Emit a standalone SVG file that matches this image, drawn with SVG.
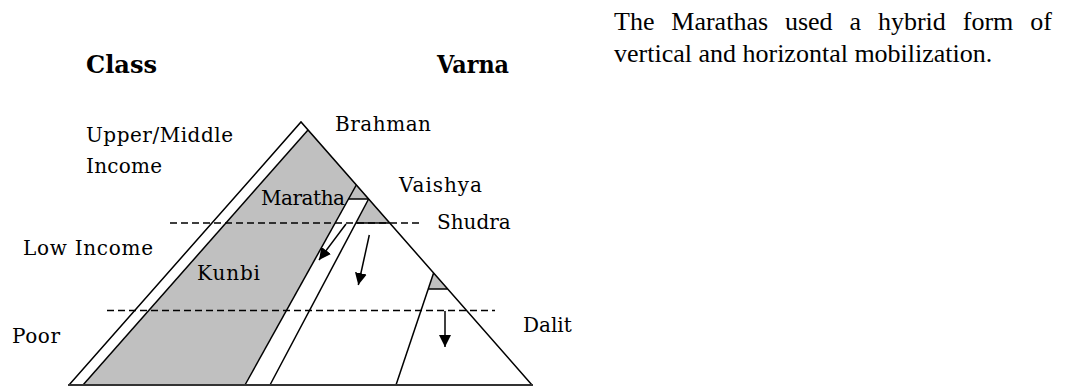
<svg xmlns="http://www.w3.org/2000/svg" width="1065" height="387" viewBox="0 0 1065 387">
<defs>
<style>
.ln{stroke:#000;stroke-width:1.5;fill:none;stroke-linejoin:miter}
.gr{fill:#c0c0c0;stroke:none}
.ds{stroke:#000;stroke-width:1.3;stroke-dasharray:7 4;fill:none}
.lb{font-family:"DejaVu Serif",serif;font-size:20px;fill:#000}
.hd{font-family:"DejaVu Serif",serif;font-size:24px;font-weight:bold;fill:#000}
.pg{font-family:"Liberation Serif","Times New Roman",serif;font-size:26px;fill:#000}
.ar{stroke:#000;stroke-width:1.5;fill:none}
</style>
<marker id="ah" viewBox="0 0 10 10" refX="10" refY="5" markerWidth="12" markerHeight="12" markerUnits="userSpaceOnUse" orient="auto">
<path d="M0,0 L10,5 L0,10 z" fill="#000"/>
</marker>
</defs>
<rect width="1065" height="387" fill="#fff"/>
<g id="pyramid">
<polygon class="gr" points="83,385 308,130 356.3,185 245,385"/>
<polygon class="gr" points="356.3,185 368.6,199 348.2,199"/>
<polygon class="gr" points="368.6,199 389.7,223 355.9,223"/>
<polygon class="gr" points="433.6,273 447.6,289 428.2,289"/>
<polyline class="ln" points="69,385 301,122 532,385"/>
<line class="ln" x1="83" y1="385" x2="308" y2="130"/>
<line class="ln" x1="356.3" y1="185" x2="245" y2="385"/>
<line class="ln" x1="368.6" y1="199" x2="270" y2="385"/>
<line class="ln" x1="433.6" y1="273" x2="396" y2="385"/>
<line class="ln" x1="348.2" y1="199" x2="368.6" y2="199"/>
<line class="ln" x1="355.9" y1="223" x2="389.7" y2="223"/>
<line class="ln" x1="428.2" y1="289" x2="447.6" y2="289"/>
<line x1="68" y1="385" x2="533" y2="385" stroke="#333" stroke-width="2.2"/>
</g>
<g id="dividers">
<line class="ds" x1="170" y1="223" x2="422" y2="223"/>
<line class="ds" x1="107" y1="310.5" x2="495" y2="310.5"/>
</g>
<g id="connectors">
<line class="ar" x1="346" y1="224" x2="319" y2="260" marker-end="url(#ah)"/>
<line class="ar" x1="369.3" y1="235" x2="358.3" y2="285" marker-end="url(#ah)"/>
<line class="ar" x1="445" y1="311" x2="445" y2="347" marker-end="url(#ah)"/>
</g>
<g id="headers">
<text class="hd" x="86" y="73" textLength="71" lengthAdjust="spacingAndGlyphs">Class</text>
<text class="hd" x="437" y="73" textLength="72" lengthAdjust="spacingAndGlyphs">Varna</text>
</g>
<g id="class-labels">
<text class="lb" x="86" y="142" textLength="147">Upper/Middle</text>
<text class="lb" x="86" y="173" textLength="76">Income</text>
<text class="lb" x="23" y="255" textLength="130">Low Income</text>
<text class="lb" x="12" y="343" textLength="48">Poor</text>
</g>
<g id="varna-labels">
<text class="lb" x="335" y="131" textLength="96">Brahman</text>
<text class="lb" x="399" y="192" textLength="83">Vaishya</text>
<text class="lb" x="437" y="229">Shudra</text>
<text class="lb" x="523" y="332">Dalit</text>
</g>
<g id="caste-labels">
<text class="lb" x="261" y="205" textLength="84">Maratha</text>
<text class="lb" x="197" y="280" textLength="63">Kunbi</text>
</g>
<g id="paragraph">
<text class="pg" y="30"><tspan x="614">The</tspan><tspan x="671.3">Marathas</tspan><tspan x="784.9">used</tspan><tspan x="849.5">a</tspan><tspan x="877.9">hybrid</tspan><tspan x="962.8">form</tspan><tspan x="1030.2">of</tspan></text>
<text class="pg" x="614" y="62">vertical and horizontal mobilization.</text>
</g>
</svg>
